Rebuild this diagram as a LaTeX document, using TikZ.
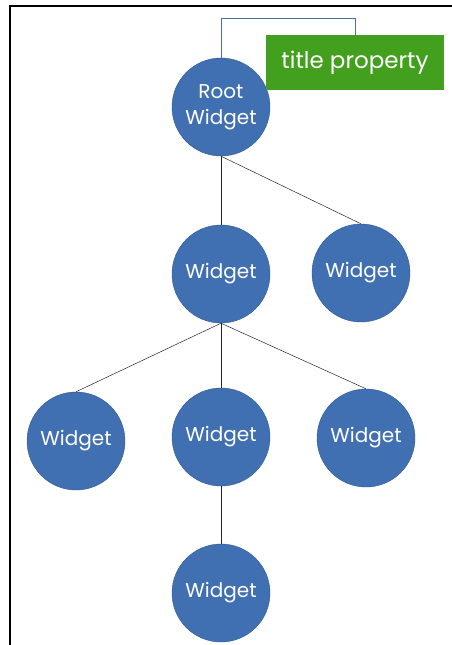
\documentclass[tikz,border=0pt]{standalone}
\usepackage{fontspec}
\setmainfont{Poppins}
\definecolor{wblue}{HTML}{4170B2}
\definecolor{wborder}{HTML}{2F5A94}
\definecolor{tgreen}{HTML}{43A01E}
\definecolor{lblue}{HTML}{4A6FB0}
\begin{document}
\begin{tikzpicture}[x=1pt,y=-1pt,
  widget/.style={circle,fill=wblue,draw=wborder,line width=0.4pt,minimum size=98pt,inner sep=0pt,text=white,font=\fontsize{20}{26}\selectfont,align=center},
  edge/.style={draw=black!85,line width=0.5pt},
  titlebox/.style={fill=tgreen,text=white,minimum width=178pt,minimum height=55pt,inner sep=0pt,font=\fontsize{23}{26}\selectfont}]
\useasboundingbox (0,0) rectangle (451,645);
\fill[white] (0,0) rectangle (451,645);
\draw[line width=2pt] (10,650) -- (10,6) -- (460,6);
\node[widget] (root) at (221,107) {Root\\Widget};
\node[widget] (a) at (221,274) {Widget};
\node[widget] (b) at (361,273) {Widget};
\node[widget] (c) at (76,441) {Widget};
\node[widget] (d) at (221,437) {Widget};
\node[widget] (e) at (366,438) {Widget};
\node[widget] (f) at (221,593) {Widget};
\node[titlebox] (title) at (355,62.5) {title property};
\draw[edge] (root.south) -- (a.north);
\draw[edge] (root.south) -- (b.north);
\draw[edge] (a.south) -- (c.north);
\draw[edge] (a.south) -- (d.north);
\draw[edge] (a.south) -- (e.north);
\draw[edge] (d.south) -- (f.north);
\coordinate (k1) at (221,18);
\coordinate (k2) at (355,18);
\draw[lblue,line width=0.6pt] (root.north) -- (k1) -- (k2) -- (title.north);
\end{tikzpicture}
\end{document}
